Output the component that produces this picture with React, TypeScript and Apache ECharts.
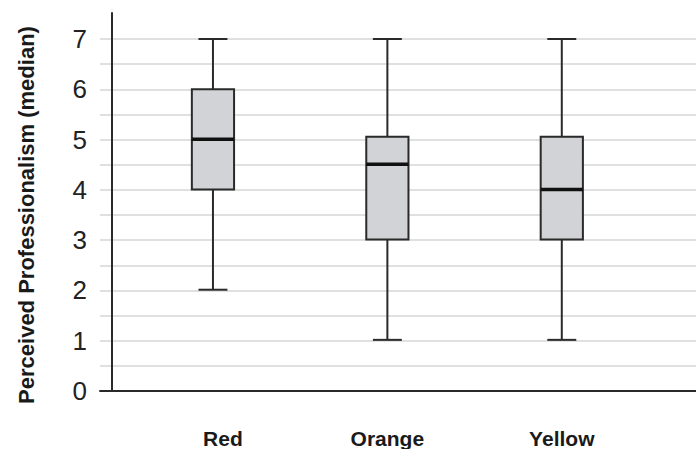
import React, { useEffect, useRef } from "react";
import * as echarts from "echarts";

const categories = ["Red", "Orange", "Yellow"];
const lows = [2, 1, 1];
const q1s = [4, 3, 3];
const medians = [5, 4.5, 4];
const q3s = [6, 5.05, 5.05];
const highs = [7, 7, 7];
const yTicks = [0, 1, 2, 3, 4, 5, 6, 7];

const FONT = "'Liberation Sans', Arial, Helvetica, sans-serif";

export default function App() {
  const ref = useRef<HTMLDivElement>(null);
  useEffect(() => {
    if (!ref.current) return;
    const chart = echarts.init(ref.current, null, { renderer: "svg" });
    const data = categories.map((c, i) => [i, lows[i], q1s[i], medians[i], q3s[i], highs[i]]);
    const dark = "#2a2a2a";
    const catData = categories.map((c, i) =>
      i === 0 ? { value: c, textStyle: { padding: [0, 0, 0, 20] } } : c
    );
    chart.setOption({
      animation: false,
      backgroundColor: "#ffffff",
      grid: [
        { left: 100, right: 0, top: 39, bottom: 58 },
        { left: 125.75, right: 47, top: 39, bottom: 58 },
        { left: 112, right: 0, top: 13, bottom: 58 },
      ],
      xAxis: [
        {
          gridIndex: 0,
          type: "value",
          min: 0,
          max: 1,
          axisLine: { show: true, lineStyle: { color: dark, width: 2 } },
          axisTick: { show: false },
          axisLabel: { show: false },
          splitLine: { show: false },
        },
        {
          gridIndex: 1,
          type: "category",
          data: catData,
          axisLine: { show: false },
          axisTick: { show: false },
          axisLabel: {
            show: true,
            margin: 38,
            fontSize: 21,
            fontWeight: "bold",
            color: "#1a1a1a",
            fontFamily: FONT,
          },
          splitLine: { show: false },
        },
        {
          gridIndex: 2,
          type: "value",
          min: 0,
          max: 1,
          show: false,
        },
      ],
      yAxis: [
        {
          gridIndex: 0,
          type: "value",
          min: 0,
          max: 7,
          interval: 0.5,
          name: "Perceived Professionalism (median)",
          nameLocation: "middle",
          nameGap: 63,
          nameTextStyle: {
            fontSize: 22,
            fontWeight: "bold",
            color: "#1a1a1a",
            fontFamily: FONT,
          },
          axisLine: { show: false },
          axisTick: { show: false },
          axisLabel: {
            margin: 13,
            fontSize: 26,
            color: "#222",
            fontFamily: FONT,
            formatter: (v: number) => (yTicks.indexOf(v) >= 0 ? String(v) : ""),
          },
          splitLine: { show: true, lineStyle: { color: "#d6d6d6", width: 1.5 } },
        },
        {
          gridIndex: 1,
          type: "value",
          min: 0,
          max: 7,
          show: false,
        },
        {
          gridIndex: 2,
          type: "value",
          min: 0,
          max: 1,
          axisLine: { show: true, lineStyle: { color: dark, width: 2 } },
          axisTick: { show: false },
          axisLabel: { show: false },
          splitLine: { show: false },
        },
      ],
      series: [
        {
          type: "custom",
          xAxisIndex: 1,
          yAxisIndex: 1,
          data,
          encode: { x: 0, y: [1, 2, 3, 4, 5] },
          renderItem: (params: any, api: any) => {
            const x = api.value(0);
            const pLow = api.coord([x, api.value(1)]);
            const pQ1 = api.coord([x, api.value(2)]);
            const pMed = api.coord([x, api.value(3)]);
            const pQ3 = api.coord([x, api.value(4)]);
            const pHigh = api.coord([x, api.value(5)]);
            const band = api.size([1, 0])[0];
            const hb = band * 0.121;
            const hc = band * 0.083;
            const cx = pLow[0];
            const ls = { stroke: dark, lineWidth: 2 };
            return {
              type: "group",
              children: [
                { type: "line", shape: { x1: cx, y1: pLow[1], x2: cx, y2: pQ1[1] }, style: ls },
                { type: "line", shape: { x1: cx, y1: pQ3[1], x2: cx, y2: pHigh[1] }, style: ls },
                { type: "line", shape: { x1: cx - hc, y1: pLow[1], x2: cx + hc, y2: pLow[1] }, style: ls },
                { type: "line", shape: { x1: cx - hc, y1: pHigh[1], x2: cx + hc, y2: pHigh[1] }, style: ls },
                {
                  type: "rect",
                  shape: { x: cx - hb, y: pQ3[1], width: hb * 2, height: pQ1[1] - pQ3[1] },
                  style: { fill: "#d1d3d6", stroke: dark, lineWidth: 2 },
                },
                {
                  type: "line",
                  shape: { x1: cx - hb, y1: pMed[1], x2: cx + hb, y2: pMed[1] },
                  style: { stroke: "#111", lineWidth: 3.5 },
                },
              ],
            };
          },
        },
      ],
    });
    return () => chart.dispose();
  }, []);
  return <div ref={ref} style={{ width: 696, height: 449, position: "absolute", left: 0, top: 0 }} />;
}
